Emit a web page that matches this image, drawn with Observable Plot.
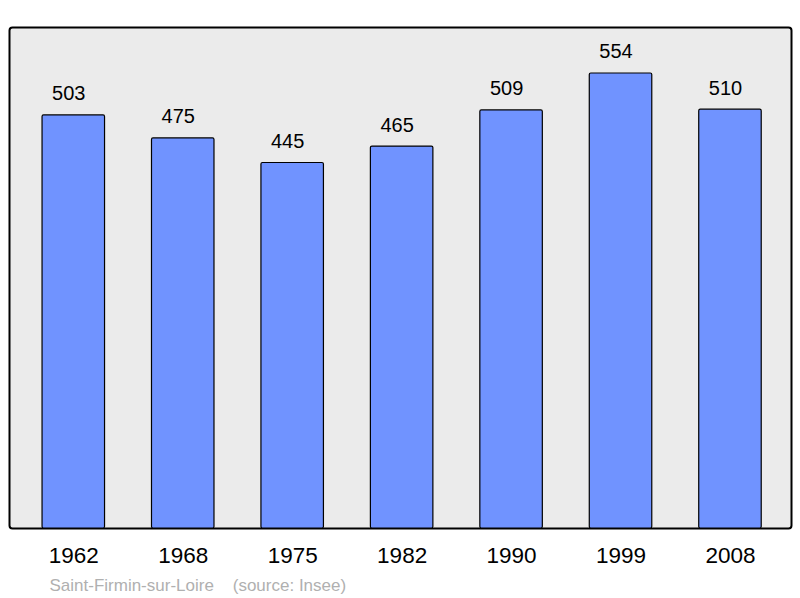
<!DOCTYPE html>
<html>
<head>
<meta charset="utf-8">
<script src="https://cdn.jsdelivr.net/npm/d3@7"></script>
<script src="https://cdn.jsdelivr.net/npm/@observablehq/plot@0.6"></script>
<style>
  html, body { margin: 0; padding: 0; background: #fff; }
  svg { display: block; }
</style>
</head>
<body>
<div id="chart"></div>
<script>
const years = ["1962", "1968", "1975", "1982", "1990", "1999", "2008"];
const population = [503, 475, 445, 465, 509, 554, 510];
const commune = "Saint-Firmin-sur-Loire";
const source = "(source: Insee)";

const data = years.map((y, i) => ({year: y, pop: population[i]}));

const chart = Plot.plot({
  width: 800,
  height: 598,
  marginTop: 27,
  marginBottom: 70,
  marginLeft: 9,
  marginRight: 9,
  style: {fontFamily: "'Liberation Sans', Arial, sans-serif", background: "#fff"},
  x: {domain: years, paddingInner: 0.429, paddingOuter: 0.287, align: 0.526, round: false, label: null},
  y: {domain: [0, 610], axis: null},
  marks: [
    Plot.frame({fill: "#ebebeb", stroke: "#000", strokeWidth: 2, rx: 3}),
    Plot.barY(data, {x: "year", y: "pop", fill: "#7093ff", stroke: "#000", strokeWidth: 1.2, rx: 1.5}),
    Plot.text(data, {x: "year", y: "pop", text: d => String(d.pop), dx: -5, dy: -15, lineAnchor: "bottom", fontSize: 20, fill: "#000"}),
    Plot.axisX({tickSize: 0, tickPadding: 19, fontSize: 22.5, label: null, color: "#000"}),
    Plot.text([commune + "\u00a0\u00a0\u00a0\u00a0" + source], {frameAnchor: "bottom-left", dx: 40, dy: 62, textAnchor: "start", lineAnchor: "bottom", fontSize: 17, fill: "#b0b0b0"})
  ]
});
document.getElementById("chart").appendChild(chart);
</script>
</body>
</html>
